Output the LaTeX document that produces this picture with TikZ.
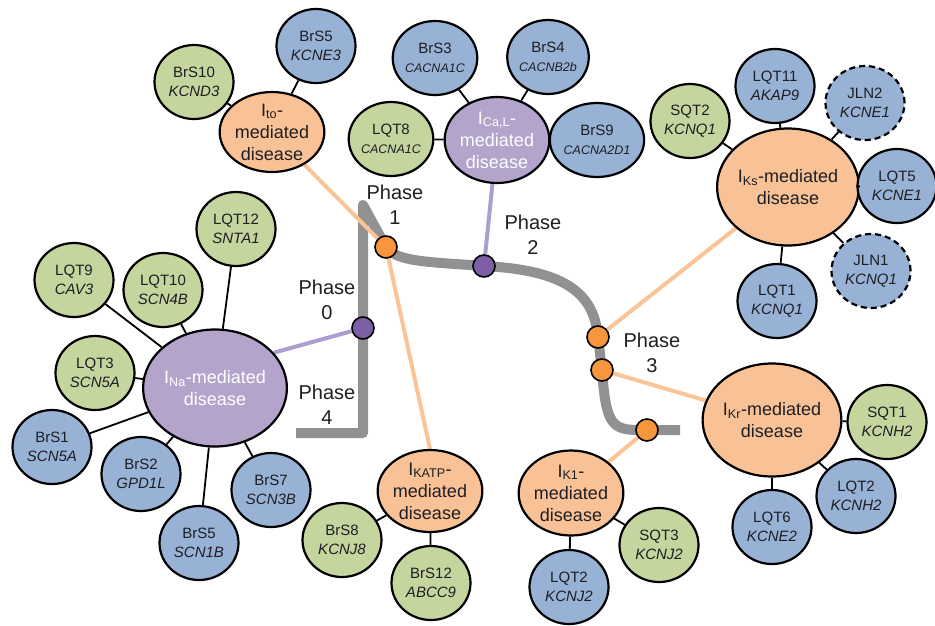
\documentclass[tikz,border=0pt]{standalone}
\usepackage{fontspec}
\setmainfont{Liberation Sans}
\usetikzlibrary{shapes.geometric}
\pgfdeclarelayer{background}
\pgfsetlayers{background,main}
\definecolor{cgreen}{RGB}{196,214,158}
\definecolor{cblue}{RGB}{152,178,214}
\definecolor{corange}{RGB}{249,194,150}
\definecolor{cpurple}{RGB}{180,164,204}
\definecolor{dorange}{RGB}{247,150,60}
\definecolor{dpurple}{RGB}{125,95,165}
\definecolor{cgray}{RGB}{145,145,145}
\definecolor{lorange}{RGB}{250,196,150}
\definecolor{lpurple}{RGB}{172,158,206}
\definecolor{ctext}{RGB}{30,30,35}
\newcommand\gn[1]{\textit{#1}}
\newcommand\gsm[1]{{\fontsize{12.5}{15}\selectfont\textit{#1}}}
\begin{document}
\begin{tikzpicture}[x=1pt,y=-1pt,
  base/.style={ellipse, draw=black, line width=2.2pt, inner sep=0pt, align=center, text=ctext},
  leaf/.style={base, minimum width=79pt, minimum height=74pt, font=\fontsize{15}{19}\selectfont},
  gleaf/.style={leaf, fill=cgreen},
  bleaf/.style={leaf, fill=cblue},
  jleaf/.style={bleaf, dash pattern=on 6pt off 4pt},
  hub/.style={base, font=\fontsize{18}{22}\selectfont},
  ohub/.style={hub, fill=corange},
  phub/.style={hub, fill=cpurple, text=white},
  link/.style={draw=black, line width=1.8pt},
  dotn/.style={circle, draw=black, line width=1.6pt, minimum size=22pt, inner sep=0pt},
  odot/.style={dotn, fill=dorange},
  pdot/.style={dotn, fill=dpurple},
  ocon/.style={draw=lorange, line width=4pt},
  pcon/.style={draw=lpurple, line width=4pt},
  phase/.style={align=center, font=\fontsize{20}{25}\selectfont, text=ctext}]
\useasboundingbox (0,0) rectangle (935,625);

% hubs
\node[ohub, minimum width=87pt, minimum height=80pt] (ito) at (272,132) {I\textsubscript{to}-\\mediated\\disease};
\node[phub, minimum width=103pt, minimum height=86pt] (ical) at (497,140) {I\textsubscript{Ca,L}-\\mediated\\disease};
\node[ohub, minimum width=128pt, minimum height=117pt] (iks) at (788,187) {I\textsubscript{Ks}-mediated\\disease};
\node[ohub, minimum width=121pt, minimum height=113pt] (ikr) at (772,420) {I\textsubscript{Kr}-mediated\\disease};
\node[ohub, minimum width=96pt, minimum height=85pt] (ikone) at (571,493) {I\textsubscript{K1}-\\mediated\\disease};
\node[ohub, minimum width=93pt, minimum height=82pt] (ikatp) at (430,491) {I\textsubscript{KATP}-\\mediated\\disease};
\node[phub, minimum width=134pt, minimum height=117pt] (ina) at (215,388) {I\textsubscript{Na}-mediated\\disease};

% leaves
\node[gleaf] (brs10) at (194,82) {BrS10\\\gn{KCND3}};
\node[bleaf] (brs5a) at (316,46) {BrS5\\\gn{KCNE3}};
\node[bleaf] (brs3) at (435,58) {BrS3\\\gsm{CACNA1C}};
\node[bleaf] (brs4) at (548,57) {BrS4\\\gsm{CACNB2b}};
\node[gleaf] (lqt8) at (391,139) {LQT8\\\gsm{CACNA1C}};
\node[bleaf] (brs9) at (597,140) {BrS9\\\gsm{CACNA2D1}};
\node[gleaf] (sqt2) at (690,121) {SQT2\\\gn{KCNQ1}};
\node[bleaf] (lqt11) at (775,86) {LQT11\\\gn{AKAP9}};
\node[jleaf] (jln2) at (865,103) {JLN2\\\gn{KCNE1}};
\node[bleaf] (lqt5) at (897,186) {LQT5\\\gn{KCNE1}};
\node[jleaf] (jln1) at (871,271) {JLN1\\\gn{KCNQ1}};
\node[bleaf] (lqt1) at (777,301) {LQT1\\\gn{KCNQ1}};
\node[gleaf] (sqt1) at (887,422) {SQT1\\\gn{KCNH2}};
\node[bleaf] (lqt2a) at (856,496) {LQT2\\\gn{KCNH2}};
\node[bleaf] (lqt6) at (772,527) {LQT6\\\gn{KCNE2}};
\node[gleaf] (sqt3) at (659,545) {SQT3\\\gn{KCNJ2}};
\node[bleaf] (lqt2b) at (569,587) {LQT2\\\gn{KCNJ2}};
\node[gleaf] (brs8) at (342,540) {BrS8\\\gn{KCNJ8}};
\node[gleaf] (brs12) at (431,583) {BrS12\\\gn{ABCC9}};
\node[gleaf] (lqt12) at (236,229) {LQT12\\\gn{SNTA1}};
\node[gleaf] (lqt9) at (74,280) {LQT9\\\gn{CAV3}};
\node[gleaf] (lqt10) at (163,290) {LQT10\\\gn{SCN4B}};
\node[gleaf] (lqt3) at (95,373) {LQT3\\\gn{SCN5A}};
\node[bleaf] (brs1) at (52,447) {BrS1\\\gn{SCN5A}};
\node[bleaf] (brs2) at (141,474) {BrS2\\\gn{GPD1L}};
\node[bleaf] (brs5b) at (199,543) {BrS5\\\gn{SCN1B}};
\node[bleaf] (brs7) at (271,490) {BrS7\\\gn{SCN3B}};

% phase dots
\node[pdot] (d0) at (363,328) {};
\node[odot] (d1) at (386,247) {};
\node[pdot] (d2) at (484,266) {};
\node[odot] (d3a) at (598,337) {};
\node[odot] (d3b) at (602,370) {};
\node[odot] (d4) at (647,430) {};

% phase labels
\node[phase] (p1) at (395,205) {Phase\\1};
\node[phase] (p2) at (533,235) {Phase\\2};
\node[phase] (p0) at (327,300) {Phase\\0};
\node[phase] (p4) at (327,405) {Phase\\4};
\node[phase] (p3) at (652,353) {Phase\\3};

% hub-leaf links
\foreach \a/\b in {ito/brs10, ito/brs5a, ical/brs3, ical/brs4, ical/lqt8, ical/brs9,
  iks/sqt2, iks/lqt11, iks/jln2, iks/lqt5, iks/jln1, iks/lqt1,
  ikr/sqt1, ikr/lqt2a, ikr/lqt6, ikone/sqt3, ikone/lqt2b, ikatp/brs8, ikatp/brs12,
  ina/lqt12, ina/lqt9, ina/lqt10, ina/lqt3, ina/brs1, ina/brs2, ina/brs5b, ina/brs7}
  \draw[link] (\a) -- (\b);

\begin{pgfonlayer}{background}
\draw[cgray, line width=10pt, line join=round]
  (296,433) -- (363,433) -- (363,205) -- (386,247)
  .. controls (396,262) and (430,262) .. (484,266)
  .. controls (560,270) and (594,290) .. (598,337)
  -- (602,370)
  .. controls (606,425) and (612,430) .. (640,430) -- (680,430);
\draw[ocon] (ito) -- (d1);
\draw[ocon] (d1) -- (ikatp.north);
\draw[pcon] (ical) -- (d2);
\draw[pcon] (ina.31) -- (d0);
\draw[ocon] (iks) -- (d3a);
\draw[ocon] (ikr) -- (d3b);
\draw[ocon] (ikone) -- (d4);
\end{pgfonlayer}
\end{tikzpicture}
\end{document}
